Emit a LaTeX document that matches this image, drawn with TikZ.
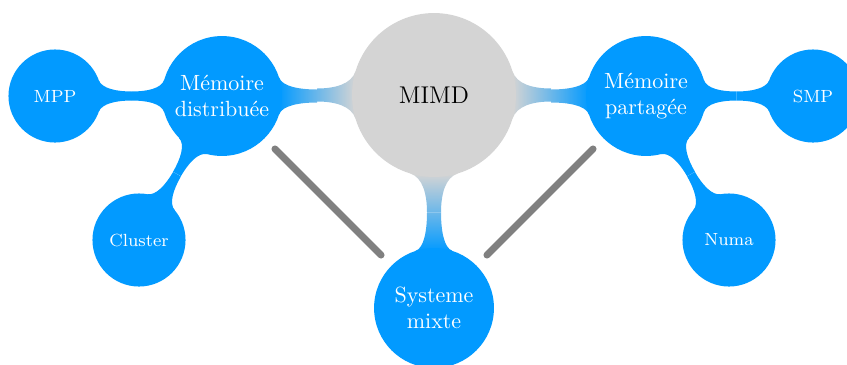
\documentclass[tikz,border=0pt]{standalone}
\usetikzlibrary{backgrounds}
\definecolor{cb}{RGB}{2,154,255}
\definecolor{cg}{RGB}{212,212,212}
\colorlet{cm}{cb!50!cg}
\definecolor{cl}{RGB}{128,128,128}
% #1 style, #2 node, #3 direction, #4 radius, #5 flare angle, #6 half width at seam, #7 distance to seam
\newcommand\halfbar[7]{%
\begin{scope}[shift={(#2)},rotate=#3]
\pgfmathsetmacro\hbCa{#4*cos(#5)}\pgfmathsetmacro\hbSa{#4*sin(#5)}
\pgfmathsetmacro\hbT{0.8*(\hbSa-#6)}
\pgfmathsetmacro\hbXa{\hbCa+\hbT*sin(#5)}\pgfmathsetmacro\hbYa{\hbSa-\hbT*cos(#5)}
\pgfmathsetmacro\hbXb{#7-0.45*(#7-\hbCa)}
\path[#1] (\hbCa,\hbSa) .. controls (\hbXa,\hbYa) and (\hbXb,#6) .. (#7,#6)
  -- (#7,-#6) .. controls (\hbXb,-#6) and (\hbXa,-\hbYa) .. (\hbCa,-\hbSa) -- cycle;
\end{scope}}
\begin{document}
\begin{tikzpicture}[x=0.4545pt,y=-0.4545pt,
 concept/.style={circle,inner sep=0pt,outer sep=0pt,align=center,fill=cb,text=white},
 rootconcept/.style={circle,inner sep=0pt,outer sep=0pt,minimum size=74.5pt,fill=cg,text=black,font=\fontsize{11}{13}\selectfont},
 lvlone/.style={concept,minimum size=54.5pt,font=\fontsize{10}{11.6}\selectfont},
 lvltwo/.style={concept,minimum size=42.3pt,font=\fontsize{8}{9.5}\selectfont},
 annot/.style={draw=cl,line width=3.2pt,line cap=round,shorten <=6.8pt,shorten >=6.8pt}]
\useasboundingbox (0,0) rectangle (847,364);
\node[rootconcept] (mimd) at (434,95) {MIMD};
\node[lvlone] (md) at (222,96) {Mémoire\\distribuée};
\node[lvlone] (mp) at (646,96) {Mémoire\\partagée};
\node[lvlone] (sm) at (434,308) {Systeme\\mixte};
\node[lvltwo] (mpp) at (55,96) {MPP};
\node[lvltwo] (smp) at (813,96) {SMP};
\node[lvltwo] (cl) at (139,240) {Cluster};
\node[lvltwo] (numa) at (729,240) {Numa};
\begin{scope}[on background layer]
\halfbar{fill=cb}{md}{180}{60}{16}{4.5}{90.25}
\halfbar{fill=cb}{mpp}{0}{46.5}{20}{4.5}{76.75}
\halfbar{fill=cb}{md}{240}{60}{16}{4.5}{90}
\halfbar{fill=cb}{cl}{60}{46.5}{20}{4.5}{76}
\halfbar{fill=cb}{mp}{0}{60}{16}{4.5}{90.25}
\halfbar{fill=cb}{smp}{180}{46.5}{20}{4.5}{76.75}
\halfbar{fill=cb}{mp}{300}{60}{16}{4.5}{90}
\halfbar{fill=cb}{numa}{120}{46.5}{20}{4.5}{76}
\halfbar{left color=cm,right color=cg}{mimd}{180}{82}{17}{6.5}{117}
\halfbar{left color=cb,right color=cm}{md}{0}{60}{18}{6.5}{95}
\halfbar{left color=cg,right color=cm}{mimd}{0}{82}{17}{6.5}{117}
\halfbar{left color=cm,right color=cb}{mp}{180}{60}{18}{6.5}{95}
\halfbar{top color=cg,bottom color=cm}{mimd}{270}{82}{17}{7}{117.5}
\halfbar{top color=cm,bottom color=cb}{sm}{90}{60}{18}{7}{95.5}
\end{scope}
\draw[annot] (md) -- (sm);
\draw[annot] (mp) -- (sm);
\end{tikzpicture}
\end{document}
